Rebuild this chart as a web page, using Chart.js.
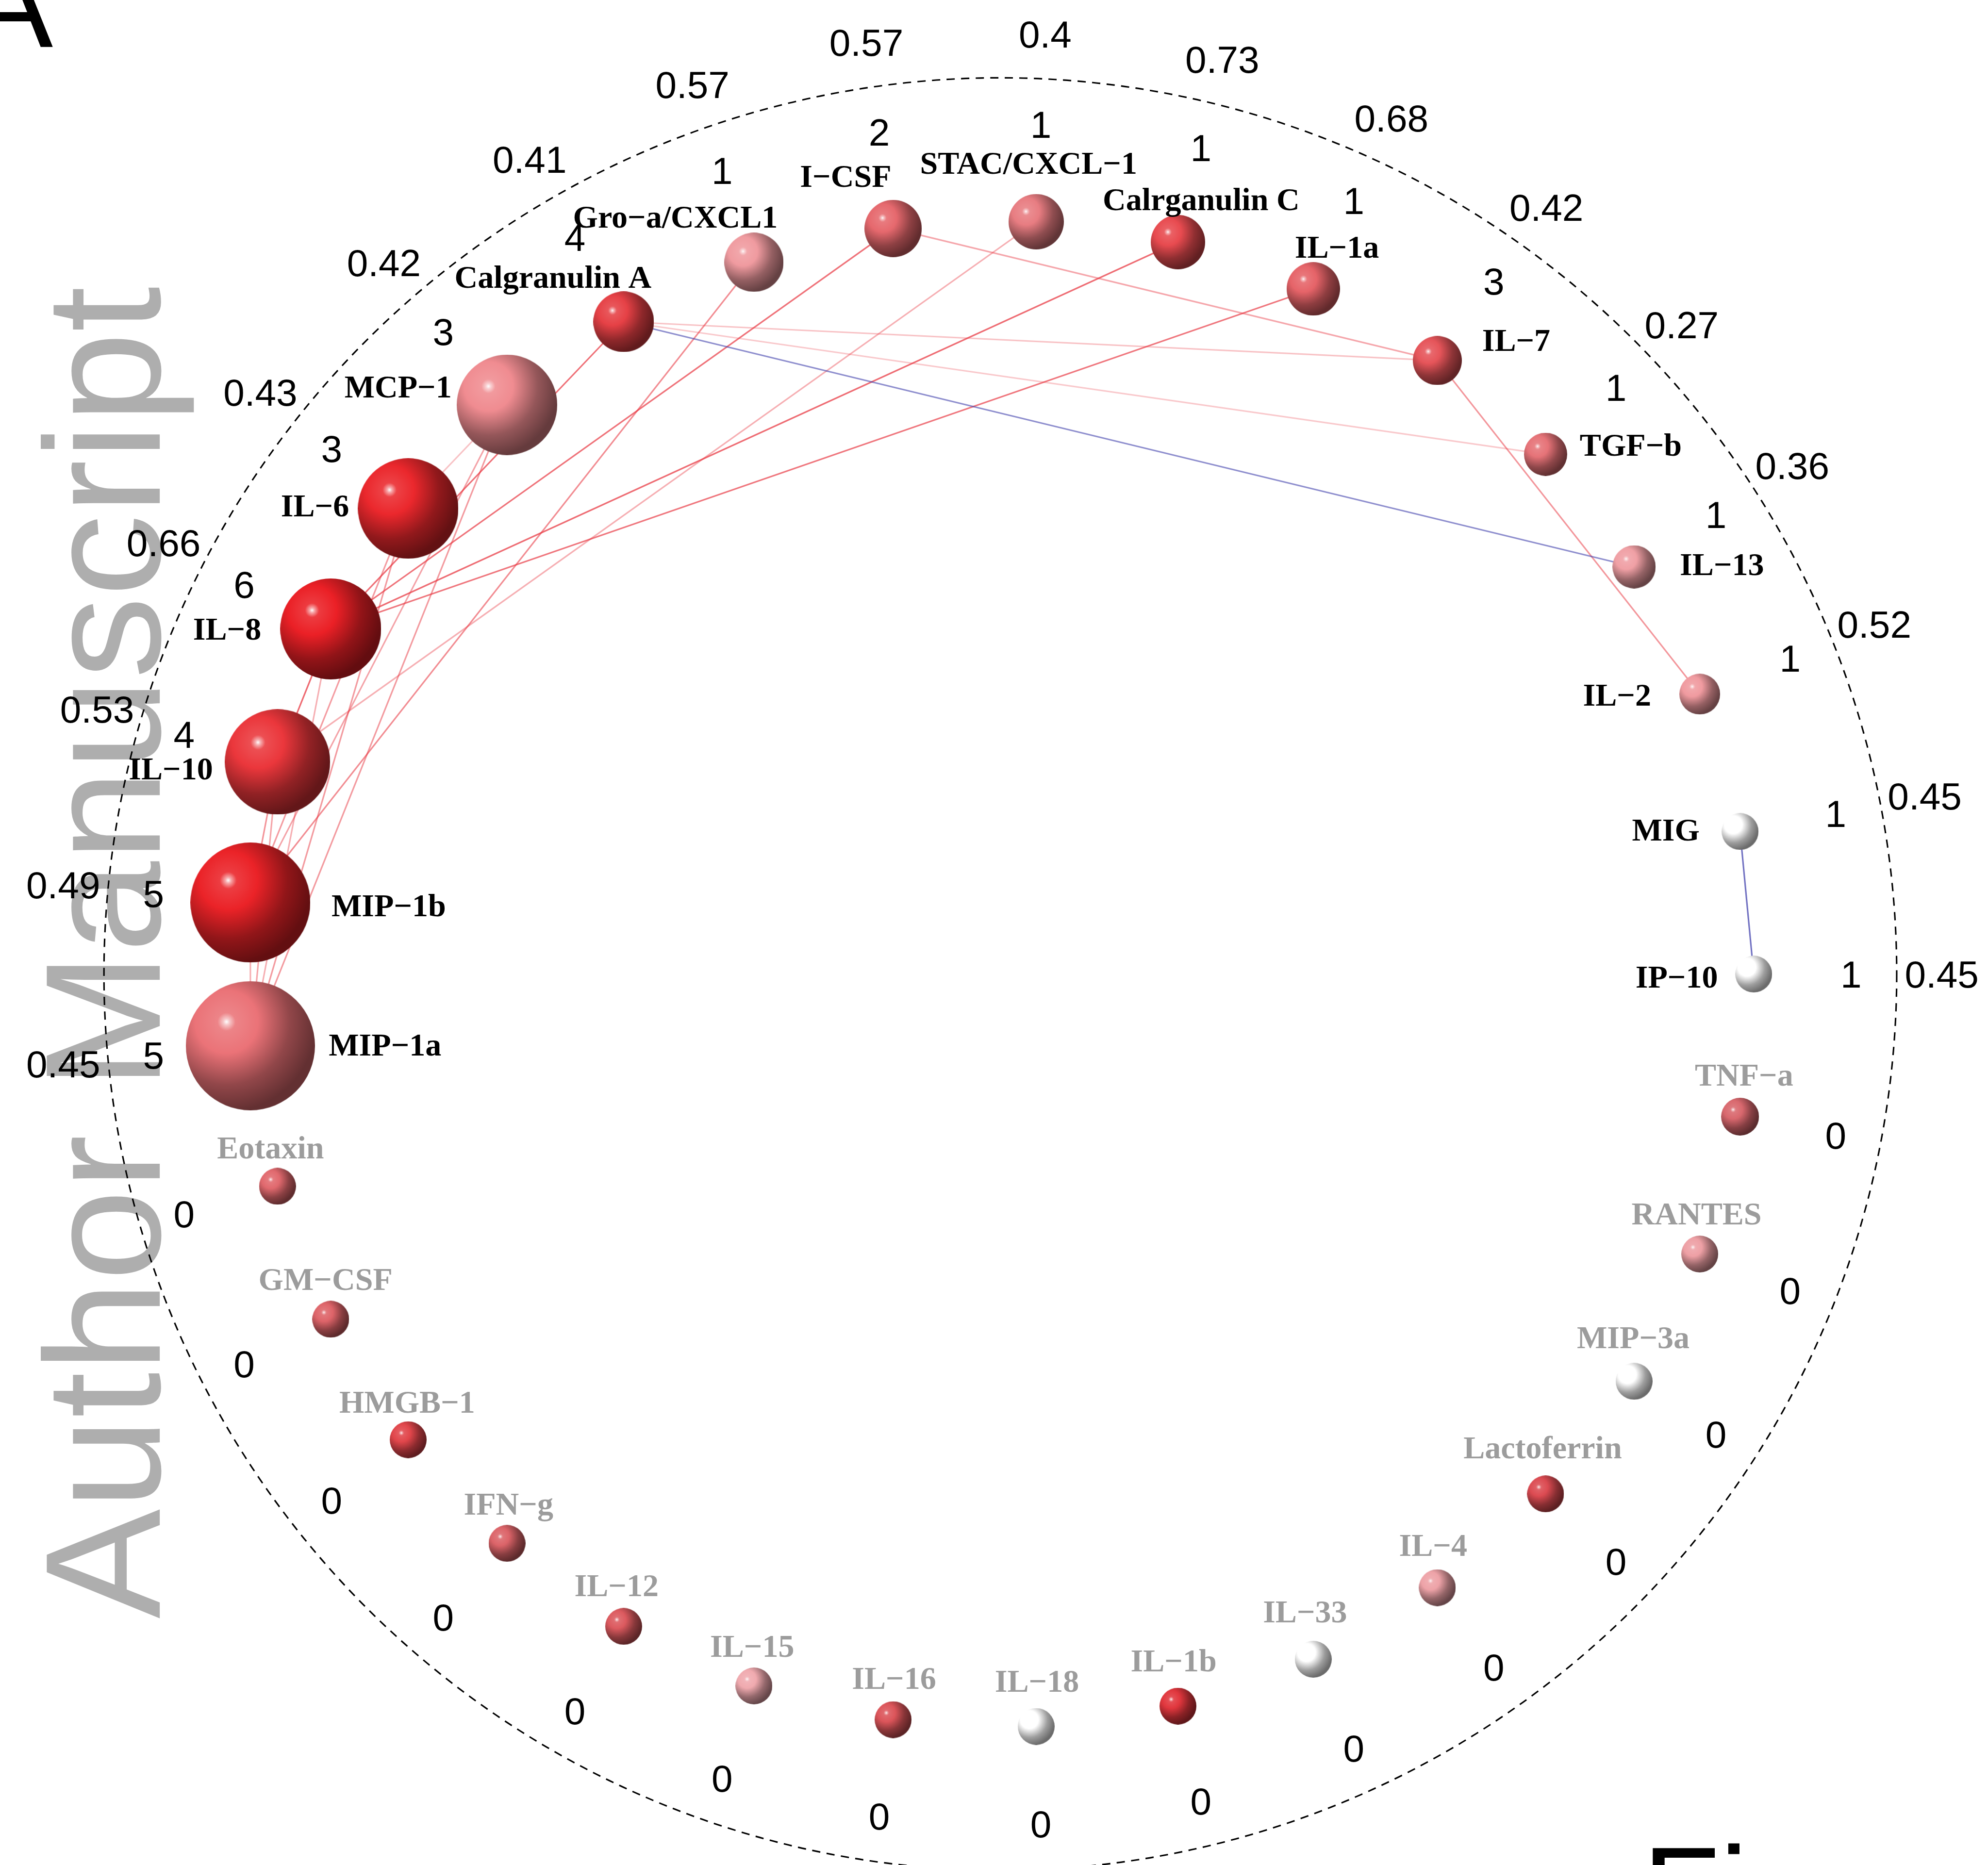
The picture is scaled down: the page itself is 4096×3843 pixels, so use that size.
<!DOCTYPE html>
<html>
<head>
<meta charset="utf-8">
<script src="https://cdn.jsdelivr.net/npm/chart.js@4.4.1/dist/chart.umd.min.js"></script>
<style>
  html, body { margin: 0; padding: 0; background: #fff; }
  #wrap { width: 4096px; height: 3843px; }
</style>
</head>
<body>
<div id="wrap"><canvas id="net" width="4096" height="3843"></canvas></div>
<script>
// cytokines in the order they sit round the circle, starting at 3 o'clock and going clockwise
const nodes = ['IP−10', 'TNF−a', 'RANTES', 'MIP−3a', 'Lactoferrin', 'IL−4', 'IL−33', 'IL−1b',
  'IL−18', 'IL−16', 'IL−15', 'IL−12', 'IFN−g', 'HMGB−1', 'GM−CSF', 'Eotaxin', 'MIP−1a',
  'MIP−1b', 'IL−10', 'IL−8', 'IL−6', 'MCP−1', 'Calgranulin A', 'Gro−a/CXCL1', 'I−CSF',
  'STAC/CXCL−1', 'Calrganulin C', 'IL−1a', 'IL−7', 'TGF−b', 'IL−13', 'IL−2', 'MIG'];

// number printed on the outer ring (mean |r| of the node's edges), null when unconnected
const meanCorr = [0.45, null, null, null, null, null, null, null,
  null, null, null, null, null, null, null, null, 0.45,
  0.49, 0.53, 0.66, 0.43, 0.42, 0.41, 0.57, 0.57,
  0.4, 0.73, 0.68, 0.42, 0.27, 0.36, 0.52, 0.45];

// edges
const edgeFrom = ['Calgranulin A', 'Calgranulin A', 'Calgranulin A', 'Calgranulin A', 'I−CSF', 'I−CSF',
  'IL−7', 'Gro−a/CXCL1', 'STAC/CXCL−1', 'Calrganulin C', 'IL−1a', 'MIG', 'MCP−1', 'MCP−1', 'MCP−1',
  'MIP−1a', 'MIP−1a', 'MIP−1a', 'MIP−1a', 'MIP−1b', 'MIP−1b', 'IL−8'];
const edgeTo = ['IL−7', 'TGF−b', 'IL−13', 'IL−8', 'IL−7', 'IL−8',
  'IL−2', 'MIP−1b', 'IL−10', 'IL−8', 'IL−8', 'IP−10', 'IL−6', 'MIP−1a', 'MIP−1b',
  'IL−6', 'IL−8', 'IL−10', 'MIP−1b', 'IL−10', 'IL−6', 'IL−10'];
const edgeCorr = [0.30, 0.27, -0.36, 0.71, 0.44, 0.70,
  0.52, 0.57, 0.40, 0.73, 0.68, -0.45, 0.30, 0.50, 0.46,
  0.50, 0.40, 0.45, 0.40, 0.53, 0.49, 0.74];

// ---- style ----
const SCALE = 4096 / 1568;            // reference units -> pixels
const REF_W = 1568, REF_H = 1471.2;
const CX = 789, CY = 768.4, NODE_R = 594.2;
const RING = 707 / NODE_R, DEG_R = 671 / NODE_R, VAL_R = 742.5 / NODE_R;

const nodeDiam = [29, 29.5, 29, 29, 29, 29, 29, 29, 29, 29, 29, 29, 29, 29, 29, 29, 101.5,
  94.5, 83, 79.5, 79, 79, 47.5, 46.6, 45, 43.6, 42.7, 42, 38.6, 34, 34, 32, 29];
const nodeColour = ['#ffffff', '#d9686e', '#eea0a5', '#ffffff', '#dc4b52', '#eea3a8', '#ffffff', '#e1373e',
  '#ffffff', '#dc555a', '#f0aaaf', '#dc5a5f', '#dc6469', '#e1464b', '#de6469', '#e1696e', '#eb7378',
  '#eb2328', '#eb373c', '#eb2026', '#eb282d', '#f08c91', '#e64146', '#f09ba0', '#e6696e',
  '#e87d82', '#e84b50', '#e66469', '#e6555a', '#e67378', '#f0a0a5', '#f09ba0', '#ffffff'];
// label centre relative to the node, reference units
const labelOff = [[-60.7, 2.3], [3.1, -33], [-2.5, -31.9], [-0.7, -34.7], [-2.3, -36.6], [-3.3, -33.4],
  [-6.5, -37.5], [-3.4, -35.9], [0.6, -35.6], [0.7, -32.8], [-1.4, -31.2], [-5.6, -32.3],
  [1.2, -30.9], [-0.8, -29.8], [-4.1, -31.6], [-5.5, -30.5], [106.2, -0.7], [109.1, 2.4],
  [-84.1, 5.5], [-81.7, 0.1], [-73.5, -2.2], [-85.9, -14], [-55.7, -35.3], [-62, -35.8],
  [-37.4, -41.2], [-6, -46.2], [18.3, -33.6], [18.6, -32.9], [62.2, -16], [67.2, -7.3],
  [69.3, -1.9], [-65.2, 0.8], [-58.6, -1.2]];

const LABEL_PX = 25.3 * SCALE;
const NUM_PX = 30 * SCALE;

const ang = i => i * 2 * Math.PI / nodes.length;
const idx = name => nodes.indexOf(name);

const degree = nodes.map(n => edgeFrom.filter(e => e === n).length + edgeTo.filter(e => e === n).length);

function rgb(hex) {
  const v = parseInt(hex.slice(1), 16);
  return [(v >> 16) & 255, (v >> 8) & 255, v & 255];
}
function shade(hex, f) {
  const c = rgb(hex).map(v => Math.round(v * f));
  return `rgb(${c[0]},${c[1]},${c[2]})`;
}
function tint(hex, f) {
  const c = rgb(hex).map(v => Math.round(v + (255 - v) * f));
  return `rgb(${c[0]},${c[1]},${c[2]})`;
}

// shaded ball, used as the point style
function sphere(d, hex) {
  const s = Math.ceil(d);
  const c = document.createElement('canvas');
  c.width = c.height = s;
  const g = c.getContext('2d');
  const r = s / 2;
  const hx = r - 0.37 * r, hy = r - 0.37 * r;
  const grd = g.createRadialGradient(hx, hy, 0, hx, hy, 1.4 * r);
  grd.addColorStop(0, '#ffffff');
  grd.addColorStop(0.035, tint(hex, 0.6));
  grd.addColorStop(0.1, tint(hex, 0.12));
  grd.addColorStop(0.35, hex);
  grd.addColorStop(0.7, shade(hex, 0.62));
  grd.addColorStop(1, shade(hex, 0.42));
  g.fillStyle = grd;
  g.beginPath();
  g.arc(r, r, r, 0, 2 * Math.PI);
  g.fill();
  return c;
}
const sprites = nodes.map((n, i) => sphere(nodeDiam[i] * SCALE, nodeColour[i]));

function edgeColour(r) {
  if (r < 0) return `rgba(60, 60, 170, ${Math.min(1, -r * 1.6)})`;
  return `rgba(232, 55, 65, ${r})`;
}

const nodeSet = {
  label: 'nodes',
  order: 0,
  data: nodes.map((n, i) => ({ x: Math.cos(ang(i)), y: Math.sin(ang(i)) })),
  pointStyle: c => sprites[c.dataIndex] || 'circle',
  pointRadius: c => (nodeDiam[c.dataIndex] || 30) * SCALE / 2,
  pointHoverRadius: c => (nodeDiam[c.dataIndex] || 30) * SCALE / 2,
  pointBorderWidth: 0,
  showLine: false,
  clip: false
};

const edgeSets = edgeFrom.map((f, j) => {
  const a = idx(f), b = idx(edgeTo[j]);
  return {
    label: f + ' – ' + edgeTo[j],
    order: 1,
    data: [{ x: Math.cos(ang(a)), y: Math.sin(ang(a)) }, { x: Math.cos(ang(b)), y: Math.sin(ang(b)) }],
    showLine: true,
    borderColor: edgeColour(edgeCorr[j]),
    borderWidth: 3.2,
    pointRadius: 0,
    tension: 0
  };
});

const ringText = {
  id: 'ringText',
  beforeDatasetsDraw(chart) {
    const { ctx, scales: { x, y } } = chart;
    // watermark
    ctx.save();
    ctx.fillStyle = '#aeaeae';
    ctx.font = `${129.5 * SCALE}px "Liberation Sans", Arial, sans-serif`;
    ctx.textAlign = 'left';
    ctx.textBaseline = 'alphabetic';
    ctx.translate(126 * SCALE, 1276.8 * SCALE);
    ctx.rotate(-Math.PI / 2);
    ctx.fillText('Author Manuscript', 0, 0);
    ctx.restore();

    // panel letter and the cut caption
    ctx.save();
    ctx.fillStyle = '#000';
    ctx.font = `${100 * SCALE}px "Liberation Sans", Arial, sans-serif`;
    ctx.textAlign = 'left';
    ctx.textBaseline = 'alphabetic';
    ctx.fillText('A', -24.9 * SCALE, 37 * SCALE);
    ctx.fillText('Fi', 1295.4 * SCALE, 1526.6 * SCALE);
    ctx.restore();

    // dashed ring
    const cx = x.getPixelForValue(0), cy = y.getPixelForValue(0);
    const rr = x.getPixelForValue(RING) - cx;
    ctx.save();
    ctx.strokeStyle = '#000';
    ctx.lineWidth = 1.2 * SCALE;
    ctx.setLineDash([6.5 * SCALE, 5 * SCALE]);
    ctx.beginPath();
    ctx.arc(cx, cy, rr, 0, 2 * Math.PI);
    ctx.stroke();
    ctx.restore();
  },
  afterDatasetsDraw(chart) {
    const { ctx, scales: { x, y } } = chart;
    ctx.save();
    ctx.textAlign = 'center';
    ctx.textBaseline = 'alphabetic';
    nodes.forEach((name, i) => {
      const a = ang(i), c = Math.cos(a), s = Math.sin(a);
      const px = x.getPixelForValue(c), py = y.getPixelForValue(s);

      ctx.font = `bold ${LABEL_PX}px "Liberation Serif", "Times New Roman", serif`;
      ctx.fillStyle = degree[i] ? '#000' : '#9c9c9c';
      ctx.fillText(name, px + labelOff[i][0] * SCALE, py + labelOff[i][1] * SCALE + 0.331 * LABEL_PX);

      ctx.font = `${NUM_PX}px "Liberation Sans", Arial, sans-serif`;
      ctx.fillStyle = '#000';
      ctx.fillText(String(degree[i]), x.getPixelForValue(DEG_R * c), y.getPixelForValue(DEG_R * s) + 0.358 * NUM_PX);
      if (meanCorr[i] !== null) {
        ctx.fillText(String(meanCorr[i]), x.getPixelForValue(VAL_R * c), y.getPixelForValue(VAL_R * s) + 0.358 * NUM_PX);
      }
    });
    ctx.restore();
  }
};

const ctx = document.getElementById('net').getContext('2d');
const netChart = new Chart(ctx, {
  type: 'scatter',
  data: { datasets: [nodeSet, ...edgeSets] },
  options: {
    responsive: false,
    maintainAspectRatio: false,
    devicePixelRatio: 1,
    animation: false,
    events: [],
    layout: { padding: 0, autoPadding: false },
    scales: {
      x: { type: 'linear', display: false, min: -CX / NODE_R, max: (REF_W - CX) / NODE_R },
      y: { type: 'linear', display: false, reverse: true, min: -CY / NODE_R, max: (REF_H - CY) / NODE_R }
    },
    plugins: {
      legend: { display: false },
      tooltip: { enabled: false }
    }
  },
  plugins: [ringText]
});
</script>
</body>
</html>
